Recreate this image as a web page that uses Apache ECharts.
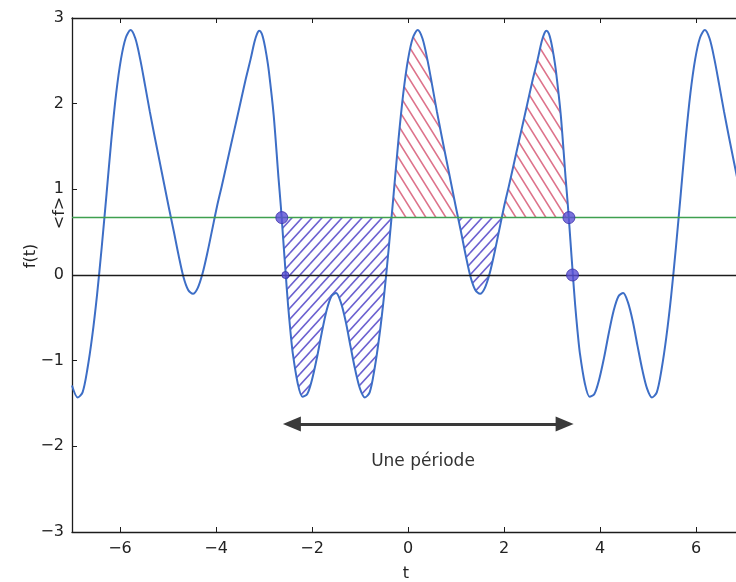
<!DOCTYPE html>
<html><head><meta charset="utf-8">
<script src="https://cdn.jsdelivr.net/npm/echarts@6/dist/echarts.min.js"></script>
<style>html,body{margin:0;padding:0;background:#fff}#c{width:736px;height:582px}</style>
</head><body><div id="c"></div>
<script>
// ---- data ----
const tValues = [
 -7.00,-6.88,-6.78,-6.68,-6.58,-6.48,-6.38,-6.28,-6.18,-6.08,-5.98,-5.88,-5.78,-5.68,-5.58,-5.48,-5.38,-5.28,-5.18,-5.08,
 -4.98,-4.88,-4.78,-4.68,-4.58,-4.48,-4.38,-4.28,-4.18,-4.08,-3.98,-3.88,-3.78,-3.68,-3.58,-3.48,-3.38,-3.28,-3.20,-3.15,
 -3.10,-3.05,-3.00,-2.95,-2.90,-2.80,-2.70,-2.65,-2.60,-2.55,-2.50,-2.45,-2.40,-2.30,-2.20,-2.10,-2.00,-1.90,-1.80,-1.70,
 -1.60,-1.50,-1.40,-1.30,-1.20,-1.10,-1.00,-0.90,-0.80,-0.70,-0.60,-0.50,-0.40,-0.30,-0.20,-0.10,0.00,0.10,0.20,0.30,
 0.40,0.50,0.60,0.70,0.80,0.90,1.00,1.10,1.20,1.30,1.40,1.50,1.60,1.70,1.80,1.90,2.00,2.10,2.20,2.30,
 2.40,2.50,2.60,2.70,2.78,2.83,
 2.88,2.93,2.98,3.03,3.08,3.18,3.28,3.33,3.38,3.43,3.48,3.53,3.58,3.68,3.78,3.88,3.98,4.08,4.18,4.28,
 4.38,4.48,4.58,4.68,4.78,4.88,4.98,5.08,5.18,5.28,5.38,5.48,5.58,5.68,5.78,5.88,5.98,6.08,6.18,6.28,
 6.38,6.48,6.58,6.68,6.78,6.88];
const fValues = [
 -1.29,-1.43,-1.37,-1.10,-0.72,-0.24,0.33,0.95,1.58,2.12,2.52,2.77,2.86,2.76,2.52,2.22,1.91,1.62,1.34,1.06,
 0.78,0.51,0.23,-0.02,-0.175,-0.22,-0.15,0.02,0.26,0.53,0.80,1.04,1.29,1.54,1.79,2.04,2.29,2.52,2.72,2.81,
 2.85,2.82,2.72,2.57,2.38,1.87,1.14,0.80,0.41,0.02,-0.35,-0.66,-0.92,-1.26,-1.42,-1.39,-1.22,-0.97,-0.68,-0.42,
 -0.25,-0.21,-0.32,-0.54,-0.83,-1.11,-1.33,-1.43,-1.37,-1.10,-0.72,-0.24,0.33,0.95,1.58,2.12,2.52,2.77,2.86,2.76,
 2.52,2.22,1.91,1.62,1.34,1.06,0.78,0.51,0.23,-0.02,-0.175,-0.22,-0.15,0.02,0.26,0.53,0.80,1.04,1.29,1.54,
 1.79,2.04,2.29,2.52,2.72,2.81,
 2.85,2.82,2.72,2.57,2.38,1.87,1.14,0.80,0.41,0.02,-0.35,-0.66,-0.92,-1.26,-1.42,-1.39,-1.22,-0.97,-0.68,-0.42,
 -0.25,-0.21,-0.32,-0.54,-0.83,-1.11,-1.33,-1.43,-1.37,-1.10,-0.72,-0.24,0.33,0.95,1.58,2.12,2.52,2.77,2.86,2.76,
 2.52,2.22,1.91,1.62,1.34,1.06];
const meanValue = 0.67;
const xTicks = [-6,-4,-2,0,2,4,6];
const xRange = [-7, 6.83];                              // the scan is cut at the right
const belowRanges = [[-2.63,-0.345],[1.04,1.95]];      // blue hatch (f < <f>)
const aboveRanges = [[-0.345,1.04],[1.95,3.35]];       // red hatch (f > <f>)
const bigDots = [[-2.63,0.67],[3.35,0.67],[3.425,0]];
const smallDots = [[-2.555,0]];
const arrowFrom = [-2.42,-1.74];
const arrowTo = [3.26,-1.74];
const labels = {x:'t', y:'f(t)', mean:'<f>', period:'Une période'};

// ---- build ----
const curve = tValues.map((t,i)=>[t,fValues[i]]);
function region(r){
  const inner = curve.filter(p=>p[0]>r[0]+1e-6 && p[0]<r[1]-1e-6);
  return [[r[0],meanValue]].concat(inner,[[r[1],meanValue]]);
}
function hatch(color,w,h,dir){
  const c=document.createElement('canvas');c.width=w;c.height=h;
  const g=c.getContext('2d');g.strokeStyle=color;g.lineWidth=1.6;g.lineCap='round';
  for(let k=-1;k<=1;k++){
    g.beginPath();
    if(dir>0){g.moveTo(k*w,h);g.lineTo(k*w+w,0);}else{g.moveTo(k*w,0);g.lineTo(k*w+w,h);}
    g.stroke();
  }
  return {image:c,repeat:'repeat'};
}
const bluePat = hatch('rgba(84,70,200,0.85)',10,11,1);
const redPat = hatch('rgba(212,80,110,0.8)',10,16,-1);
const minus = v=>String(v).replace('-','\u2212');
const font = 'DejaVu Sans';
const SM = 0.3;
const axisColor = '#1c1c1c';
const series = [];
belowRanges.forEach(r=>series.push({type:'line',data:region(r),smooth:SM,showSymbol:false,silent:true,
  lineStyle:{width:0},areaStyle:{color:bluePat,origin:meanValue,opacity:1},z:1}));
aboveRanges.forEach(r=>series.push({type:'line',data:region(r),smooth:SM,showSymbol:false,silent:true,
  lineStyle:{width:0},areaStyle:{color:redPat,origin:meanValue,opacity:1},z:1}));
series.push({type:'line',data:curve,smooth:SM,showSymbol:false,silent:true,z:3,
  lineStyle:{color:'#3d6ec6',width:2},
  markLine:{silent:true,symbol:'none',label:{show:false},animation:false,
    data:[{yAxis:0,lineStyle:{color:axisColor,width:1.3,type:'solid'}},
          {yAxis:meanValue,lineStyle:{color:'#3fa04f',width:1.3,type:'solid'}}]}});
series.push({type:'scatter',data:bigDots,symbolSize:12,z:5,silent:true,
  itemStyle:{color:'#5a4fd4',borderColor:'#3a30a8',borderWidth:1}});
series.push({type:'scatter',data:smallDots,symbolSize:7,z:5,silent:true,
  itemStyle:{color:'#5a4fd4',borderColor:'#3a30a8',borderWidth:1}});
series.push({type:'line',data:[],markLine:{silent:true,animation:false,symbol:['triangle','triangle'],symbolSize:[15,18],
  label:{show:false},lineStyle:{color:'#3a3a3a',width:3,type:'solid'},
  data:[[{coord:arrowFrom},{coord:arrowTo}]]}});

const chart = echarts.init(document.getElementById('c'),null,{renderer:'canvas'});
chart.setOption({
  animation:false,
  backgroundColor:'#ffffff',
  grid:{left:72,right:0,top:18,bottom:50,show:false},
  xAxis:[{type:'value',min:xRange[0],max:xRange[1],
    axisLine:{show:true,onZero:false,lineStyle:{color:axisColor,width:1.3}},
    axisTick:{show:true,inside:true,length:5,customValues:xTicks,lineStyle:{color:axisColor}},
    axisLabel:{customValues:xTicks,formatter:minus,color:'#222',fontSize:16,fontFamily:font,margin:9},
    splitLine:{show:false}},
   {type:'value',min:xRange[0],max:xRange[1],position:'top',
    axisLine:{show:true,onZero:false,lineStyle:{color:axisColor,width:1.3}},
    axisTick:{show:true,inside:true,length:5,customValues:xTicks,lineStyle:{color:axisColor}},
    axisLabel:{show:false},splitLine:{show:false}}],
  yAxis:{type:'value',min:-3,max:3,interval:1,
    axisLine:{show:true,onZero:false,lineStyle:{color:axisColor,width:1.3}},
    axisTick:{show:true,inside:true,length:5,lineStyle:{color:axisColor}},
    axisLabel:{formatter:minus,color:'#222',fontSize:16,fontFamily:font,margin:8},
    splitLine:{show:false}},
  series:series,
  graphic:[
    {type:'text',x:406,y:574,style:{text:labels.x,font:'16px '+font,fill:'#222',align:'center',verticalAlign:'middle'}},
    {type:'text',x:31,y:256,rotation:Math.PI/2,style:{text:labels.y,font:'16px '+font,fill:'#222',align:'center',verticalAlign:'middle'}},
    {type:'text',x:60,y:213,rotation:Math.PI/2,style:{text:labels.mean,font:'16px '+font,fill:'#222',align:'center',verticalAlign:'middle'}},
    {type:'text',x:423,y:462,style:{text:labels.period,font:'17px '+font,fill:'#333',align:'center',verticalAlign:'middle'}}
  ]
});
</script></body></html>
